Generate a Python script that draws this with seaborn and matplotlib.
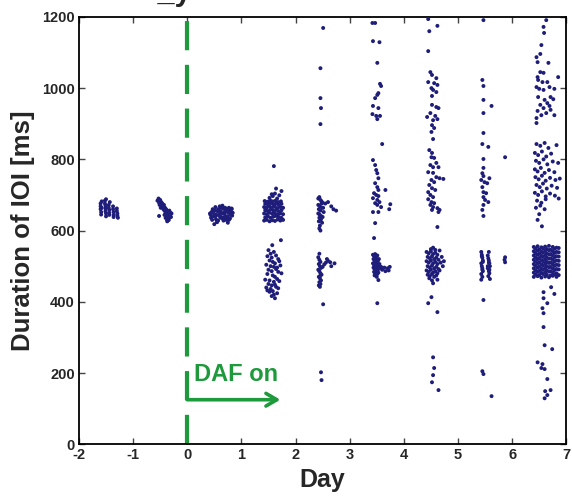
import matplotlib
matplotlib.use("Agg")
import matplotlib.pyplot as plt
import seaborn as sns
import pandas as pd

# ---------------- data ----------------
# Day -1.5
A_x = [-1.60,-1.60,-1.60,-1.59,-1.59,-1.58,-1.58, -1.52,-1.52,-1.51,-1.51,-1.51,-1.50,-1.50,-1.50,
       -1.45,-1.45,-1.44,-1.44,-1.44,-1.43, -1.37,-1.37,-1.36,-1.36,-1.36, -1.30,-1.30,-1.29,-1.29,-1.28]
A_y = [676,668,660,652,645,682,664, 684,676,670,662,654,648,640,688,
       672,664,658,650,644,680, 668,660,652,644,638, 662,655,648,642,636]
# Day -0.5
B_x = [-0.55,-0.53,-0.52,-0.50,-0.51,-0.48,-0.47,-0.49,-0.46,-0.45,-0.44,-0.43,-0.42,-0.41,-0.40,
       -0.39,-0.38,-0.37,-0.36,-0.35,-0.34,-0.33,-0.32,-0.31,-0.30,-0.42,-0.38,-0.36,-0.34,
       -0.52,-0.44,-0.40,-0.37,-0.33,-0.29]
B_y = [684,690,678,686,672,680,670,664,676,668,660,672,656,664,650,
       660,646,654,640,648,636,656,644,650,638,644,632,628,630,
       641,662,636,626,642,648]
# Day 0.5
C_x = [0.42,0.45,0.48,0.51,0.54,0.57,0.60,0.63,0.66,0.69,0.72,0.75,0.78,0.81,0.84,
       0.44,0.47,0.50,0.53,0.56,0.59,0.62,0.65,0.68,0.71,0.74,0.77,0.80,0.83,
       0.43,0.46,0.49,0.52,0.55,0.58,0.61,0.64,0.67,0.70,0.73,0.76,0.79,0.82,
       0.50,0.55,0.60,0.65,0.70,0.75,0.80,0.47,0.52,0.57,0.62,0.67,0.72,0.77,0.82]
C_y = [648,652,640,656,644,660,650,638,662,646,654,640,658,644,650,
       636,660,646,632,654,642,664,634,650,640,660,630,652,642,
       644,630,656,640,624,658,636,648,628,656,636,650,634,662,
       618,624,668,670,664,622,646,654,666,628,654,636,630,664,660]
# Day 1.5 upper
D1_x = [1.42,1.47,1.52,1.57,1.62,1.67,1.72,1.77,
        1.44,1.49,1.54,1.59,1.64,1.69,1.74,
        1.42,1.47,1.52,1.57,1.62,1.67,1.72,1.77,
        1.44,1.49,1.54,1.59,1.64,1.69,1.74,
        1.42,1.47,1.52,1.57,1.62,1.67,1.72,1.77,
        1.44,1.49,1.54,1.59,1.64,1.69,1.74,
        1.43,1.48,1.53,1.58,1.63,1.68,1.73,
        1.52,1.58,1.62,1.66,1.70,1.74,1.56,1.64,1.60]
D1_y = [628,630,626,629,627,631,628,630,
        637,640,636,639,641,638,636,
        648,646,650,647,649,645,648,646,
        657,655,659,656,658,654,657,
        666,664,668,665,667,663,666,664,
        675,673,677,674,676,672,675,
        683,681,685,682,684,680,682,
        692,697,704,690,699,711,702,718,781]
# Day 1.5 lower
D2_x = [1.73,1.57,1.50,1.54,1.60,1.48,1.56,1.64,1.68,1.52,1.58,1.62,1.70,1.46,1.54,
        1.60,1.66,1.72,1.50,1.56,1.64,1.68,1.48,1.58,1.62,1.74,1.44,1.52,1.60,1.66,
        1.70,1.50,1.56,1.62,1.46,1.54,1.64,1.68,1.52,1.58,1.60,1.48,1.56,1.66,1.62]
D2_y = [573,559,545,535,540,528,524,530,520,516,512,508,514,504,500,
        498,496,502,490,486,492,484,478,474,470,480,462,460,456,464,
        458,450,446,448,440,436,442,438,428,430,420,432,416,424,410]
# Day 2.5
E1_x = [2.42,2.44,2.46,2.48,2.50,2.42,2.45,2.48,2.51,2.43,2.46,2.49,2.52,2.42,2.45,
        2.48,2.44,2.47,2.50,2.43,2.46,2.49,2.55,2.60,2.66,2.75,2.70,2.45,2.44,2.46]
E1_y = [690,694,686,682,678,672,668,676,664,660,656,664,652,648,644,
        640,636,632,638,626,630,622,676,680,668,656,660,614,606,600]
E2_x = [2.42,2.44,2.46,2.43,2.45,2.47,2.42,2.44,2.46,2.48,2.43,2.45,2.47,2.44,2.46,
        2.43,2.45,2.50,2.53,2.56,2.60,2.64,2.72,2.66,2.58,2.44,2.45,2.51]
E2_y = [525,518,512,506,500,495,490,486,480,476,470,466,460,455,450,
        446,442,498,505,510,515,511,508,500,520,535,472,393]
E3_x = [2.51,2.46,2.46,2.47,2.46,2.47,2.48]
E3_y = [1169,1056,972,944,899,202,180]
# Day 3.5
F1_x = [3.42,3.47,3.43,3.55,3.51,3.56,3.58,3.53,3.51,3.47,3.43,3.53,3.42,3.49,3.56,
        3.51,3.60,3.43,3.47,3.49,3.51,3.53]
F1_y = [1183,1183,1132,1129,1071,1012,1006,986,981,972,950,944,927,922,922,
        913,843,798,784,770,761,747]
F2_x = [3.47,3.51,3.53,3.66,3.45,3.49,3.53,3.43,3.51,3.55,3.47,3.51,3.58,3.75,3.73,
        3.43,3.53,3.47,3.45]
F2_y = [733,722,714,714,705,700,697,691,686,680,677,672,666,674,660,
        652,652,621,579]
F3_x = [3.43,3.45,3.47,3.49,3.51,3.44,3.46,3.48,3.50,3.52,3.54,3.43,3.45,3.47,3.49,
        3.51,3.53,3.55,3.44,3.46,3.48,3.50,3.52,3.54,3.56,3.58,3.45,3.47,3.49,3.51,
        3.53,3.60,3.64,3.70,3.74,3.72,3.66,3.46,3.50,3.53,3.51]
F3_y = [532,528,534,526,530,520,516,522,518,514,520,508,504,510,506,
        502,498,506,496,492,498,494,490,500,494,498,484,480,486,478,
        482,490,496,494,498,488,486,474,470,461,396]
# Day 4.5
G1_x = [4.45,4.62,4.47,4.45,4.49,4.52,4.60,4.45,4.56,4.62,4.51,4.54,4.60,4.52,
        4.52,4.60,4.64,4.49,4.43,4.58,4.54,4.62,4.52,4.56,4.51,4.54,
        4.47,4.52,4.51,4.56,4.60,4.49,4.54,4.64]
G1_y = [1194,1175,1160,1104,1045,1037,1028,1017,1014,1009,1000,995,989,978,
        953,947,944,930,919,922,910,913,896,888,877,857,
        826,818,806,804,790,784,778,778]
G2_x = [4.45,4.54,4.60,4.66,4.73,4.51,4.56,4.47,4.52,4.58,4.45,4.49,4.54,4.45,4.51,
        4.56,4.49,4.54,4.62,4.66,4.52,4.64,4.62]
G2_y = [764,762,750,747,745,742,736,728,719,714,708,700,694,688,680,
        677,672,666,663,658,658,652,610]
G3_x = [4.42,4.46,4.50,4.54,4.58,4.62,4.66,4.44,4.48,4.52,4.56,4.60,4.64,4.70,
        4.42,4.46,4.50,4.54,4.58,4.62,4.68,4.74,4.44,4.48,4.52,4.56,4.60,4.64,4.72,
        4.42,4.46,4.50,4.54,4.58,4.62,4.66,4.44,4.48,4.52,4.56,4.60,
        4.50,4.54,4.58,4.47,4.62,4.52]
G3_y = [540,536,542,534,538,532,544,526,522,528,520,524,518,526,
        514,510,516,508,512,506,510,514,500,496,502,494,498,492,500,
        488,484,490,482,486,480,488,476,472,478,470,474,
        548,552,546,466,462,460]
G4_x = [4.54,4.51,4.45,4.62,4.54,4.56,4.54,4.52,4.64]
G4_y = [452,413,396,371,244,214,194,174,152]
# Day 5.5
H1_x = [5.47,5.45,5.47,5.47,5.62,5.47,5.47,5.45,5.56,5.47,5.47,5.45,5.47,5.58,
        5.43,5.49,5.54,5.45,5.47,5.52,5.47,5.50,5.56,5.47,5.45,5.47,5.87]
H1_y = [1191,1023,1006,967,950,930,874,843,835,801,776,761,753,747,
        742,736,733,722,708,705,694,686,680,672,658,641,806]
H2_x = [5.43,5.44,5.45,5.46,5.43,5.44,5.45,5.46,5.43,5.45,5.44,5.46,5.45,5.43,
        5.55,5.56,5.57,5.58,5.59,5.55,5.57,5.58,5.56,5.59,5.57,5.55,5.58,5.57,
        5.87,5.87,5.86]
H2_y = [540,532,524,516,508,500,494,486,478,470,528,512,490,462,
        530,522,516,508,500,494,486,480,472,464,510,500,490,540,
        525,511,518]
H3_x = [5.47,5.45,5.47,5.62]
H3_y = [405,205,197,135]
# Day 6.5
I1_x = [6.63,6.58,6.59,6.54,6.45,6.67,6.47,6.52,
        6.52,6.58,6.47,6.48,6.56,6.65,6.85,6.45,6.50,6.58,6.69,6.78,6.48,6.60,
        6.71,6.76,6.65,6.52,6.58,6.69,6.47,6.63,6.78,6.45,6.45,6.54,6.71]
I1_y = [1191,1172,1155,1121,1087,1071,1073,1096,
        1045,1043,1031,1023,1017,1017,1031,1003,998,995,1003,998,975,967,
        975,969,958,953,944,950,936,930,924,916,902,924,939]
I2_x = [6.45,6.52,6.60,6.67,6.82, 6.42,6.48,6.55,6.63,6.72, 6.44,6.50,6.58,6.65,6.75,6.85,
        6.42,6.47,6.53,6.60,6.68,6.78, 6.43,6.49,6.55,6.62,6.70,6.80,6.88,
        6.45,6.51,6.57,6.64,6.73,6.83, 6.42,6.48,6.55,6.62,6.70,6.79,
        6.46,6.54,6.62,6.86, 6.44,6.52,6.60,6.50,6.47,6.55]
I2_y = [843,838,846,832,840, 818,812,822,808,816, 796,790,800,786,794,790,
        772,766,776,762,770,764, 750,744,754,740,748,742,746,
        728,722,732,718,726,720, 706,700,710,696,704,698,
        684,678,688,690, 664,670,660,646,630,612]
I3_x = [6.40,6.47,6.54,6.61,6.68,6.75,6.82, 6.43,6.50,6.57,6.64,6.71,6.78,6.86,
        6.40,6.47,6.54,6.61,6.68,6.75,6.82, 6.43,6.50,6.57,6.64,6.71,6.78,6.86,
        6.40,6.47,6.54,6.61,6.68,6.75,6.82, 6.43,6.50,6.57,6.64,6.71,6.78,6.86,
        6.40,6.47,6.54,6.61,6.68,6.75,6.82, 6.43,6.50,6.57,6.64,6.71,6.78,6.86,
        6.40,6.47,6.54,6.61,6.68,6.75,6.82, 6.43,6.50,6.57,6.64,6.71,6.78,6.86,
        6.40,6.47,6.54,6.61,6.68,6.75,6.82, 6.43,6.50,6.57,6.64,6.71,6.78,6.86,
        6.40,6.47,6.54,6.61,6.68,6.75,6.82, 6.43,6.50,6.57,6.64,6.71,6.78,6.86,
        6.40,6.47,6.54,6.61,6.68,6.75,6.82]
I3_y = [470,472,468,471,469,473,470, 477,475,478,476,474,477,475,
        482,484,481,483,485,482,480, 489,487,490,488,486,489,491,
        494,496,493,495,497,494,492, 501,499,502,500,498,501,503,
        506,508,505,507,509,506,504, 513,511,514,512,510,513,515,
        518,520,517,519,521,518,516, 525,523,526,524,522,525,527,
        530,532,529,531,533,530,528, 537,535,538,536,534,537,539,
        542,544,541,543,545,542,540, 549,547,550,548,546,549,551,
        554,556,553,555,557,554,552]
I4_x = [6.58,6.72,6.78,6.58,6.65,6.56,6.58,6.58,6.60,6.74,6.47,6.56,6.54,6.60,6.65,
        6.71,6.65,6.60,6.61]
I4_y = [427,441,422,410,396,382,368,329,278,267,230,225,214,211,183,
        152,138,129,149]

x_ticks = [-2, -1, 0, 1, 2, 3, 4, 5, 6, 7]
y_ticks = [0, 200, 400, 600, 800, 1000, 1200]
daf_label = "DAF on"
daf_start = 0.0
daf_arrow_end = 1.72
daf_arrow_y = 125

# ---------------- build table ----------------
xs, ys = [], []
for cx, cy in [(A_x, A_y), (B_x, B_y), (C_x, C_y), (D1_x, D1_y), (D2_x, D2_y),
               (E1_x, E1_y), (E2_x, E2_y), (E3_x, E3_y),
               (F1_x, F1_y), (F2_x, F2_y), (F3_x, F3_y),
               (G1_x, G1_y), (G2_x, G2_y), (G3_x, G3_y), (G4_x, G4_y),
               (H1_x, H1_y), (H2_x, H2_y), (H3_x, H3_y),
               (I1_x, I1_y), (I2_x, I2_y), (I3_x, I3_y), (I4_x, I4_y)]:
    assert len(cx) == len(cy), (len(cx), len(cy), cx[:3])
    xs += cx
    ys += cy
df = pd.DataFrame({"Day": xs, "IOI": ys})

# ---------------- drawing ----------------
sns.set_theme(style="white")
plt.rcParams["font.family"] = ["Liberation Sans", "DejaVu Sans"]

fig = plt.figure(figsize=(5.72, 4.98), dpi=100)
ax = fig.add_axes([0.138, 0.108, 0.852, 0.858])

green = "#1e9a3c"
ax.axvline(daf_start, ymin=0, ymax=1, color=green, lw=3.0, ls=(0, (7, 3.5)), zorder=1)

sns.scatterplot(data=df, x="Day", y="IOI", ax=ax, s=8, color="#1f1d7a",
                edgecolor="none", linewidth=0, zorder=3, legend=False)

ax.annotate("", xy=(daf_arrow_end, daf_arrow_y), xytext=(daf_start, daf_arrow_y),
            arrowprops=dict(arrowstyle="->,head_length=0.65,head_width=0.38",
                            color=green, lw=2.6, shrinkA=0, shrinkB=0), zorder=4)
ax.text(0.13, 178, daf_label, color=green, fontsize=17, fontweight="bold",
        va="baseline", ha="left", zorder=4)

ax.set_xlim(-2, 7)
ax.set_ylim(0, 1200)
ax.set_xticks(x_ticks)
ax.set_yticks(y_ticks)
ax.set_xticklabels([str(t) for t in x_ticks], fontweight="bold", fontsize=10.5)
ax.set_yticklabels([str(t) for t in y_ticks], fontweight="bold", fontsize=10.5)
ax.tick_params(direction="in", length=4, width=1, top=True, right=True,
               bottom=True, left=True, color="#444444", pad=3)
for sp in ax.spines.values():
    sp.set_visible(True)
    sp.set_color("black")
    sp.set_linewidth(1.3)

ax.set_xlabel("Day", fontsize=18, fontweight="bold", labelpad=4)
ax.set_ylabel("Duration of IOI [ms]", fontsize=18.5, fontweight="bold", labelpad=5)

# partially visible heading cut off at the top edge
fig.text(0.335, 1.0, "Bird B_y", ha="right", va="baseline",
         fontsize=22, fontweight="bold")

fig.savefig("out.png", dpi=100)
